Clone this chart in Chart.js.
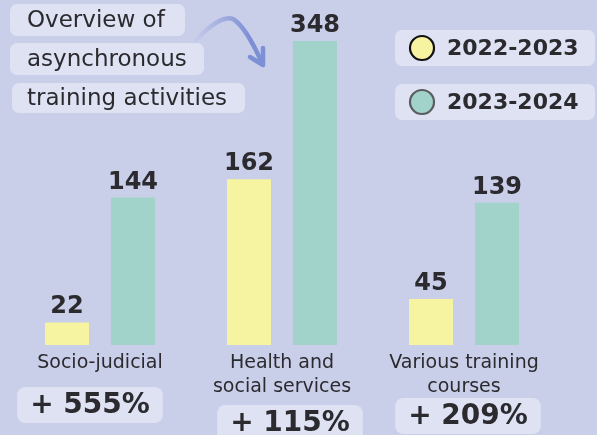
<!DOCTYPE html>
<html>
<head>
<meta charset="utf-8">
<script src="https://cdn.jsdelivr.net/npm/chart.js@4/dist/chart.umd.min.js"></script>
<style>
  html, body { margin: 0; padding: 0; background: #c9cee9; }
  #wrap { width: 597px; height: 435px; position: relative; }
</style>
</head>
<body>
<div id="wrap"><canvas id="chart-activities" width="597" height="435"></canvas></div>
<script>
// Asynchronous training activities, two school years
const categories = [['Socio-judicial'], ['Health and', 'social services'], ['Various training', 'courses']];
const seasons = ['2022-2023', '2023-2024'];
const values2223 = [22, 162, 45];
const values2324 = [144, 348, 139];
const titleLines = ['Overview of', 'asynchronous', 'training activities'];

const BOX = '#dee2f3';
const INK = '#2b2a2f';
const YELLOW = '#f6f3a1';
const TEAL = '#a1d3cb';

function roundBox(ctx, x, y, w, h, r) {
    ctx.beginPath();
    ctx.roundRect(x, y, w, h, r);
    ctx.fillStyle = BOX;
    ctx.fill();
}

const decorPlugin = {
    id: 'decor',
    afterDatasetsDraw(chart) {
        const ctx = chart.ctx;
        const area = chart.chartArea;
        ctx.save();

        // value labels above each bar (the tall bar is cut at the top)
        ctx.fillStyle = INK;
        ctx.font = 'bold 24px "DejaVu Sans"';
        ctx.textAlign = 'center';
        ctx.textBaseline = 'alphabetic';
        chart.data.datasets.forEach((ds, di) => {
            chart.getDatasetMeta(di).data.forEach((bar, i) => {
                const top = Math.max(bar.y, area.top);
                ctx.fillText(String(ds.data[i]), bar.x, top - 9);
            });
        });

        // growth badges
        const xs = chart.scales.x;
        const badgeTop = [387, 405, 398];
        const badgeShift = [-10, 8, 4];
        ctx.font = 'bold 28px "DejaVu Sans"';
        values2223.forEach((v, i) => {
            const pct = Math.round((values2324[i] - v) / v * 100);
            const txt = '+ ' + pct + '%';
            const cx = xs.getPixelForValue(i) + badgeShift[i];
            const w = ctx.measureText(txt).width + 26;
            roundBox(ctx, cx - w / 2, badgeTop[i], w, 36, 8);
            ctx.fillStyle = INK;
            ctx.textBaseline = 'middle';
            ctx.fillText(txt, cx, badgeTop[i] + 19);
        });

        // title boxes
        const titleBoxes = [[10, 4, 175, 32], [10, 43, 194, 32], [12, 83, 233, 30]];
        ctx.font = '23px "DejaVu Sans"';
        ctx.textAlign = 'left';
        titleLines.forEach((t, i) => {
            const b = titleBoxes[i];
            roundBox(ctx, b[0], b[1], b[2], b[3], 7);
            ctx.fillStyle = INK;
            ctx.fillText(t, 27, b[1] + b[3] / 2 + 1);
        });

        // legend
        const legendY = [48, 102];
        const borders = ['#111111', '#5a5c60'];
        ctx.font = 'bold 22px "DejaVu Sans"';
        chart.data.datasets.forEach((ds, i) => {
            roundBox(ctx, 395, legendY[i] - 18, 200, 36, 7);
            ctx.beginPath();
            ctx.arc(422, legendY[i], 12, 0, Math.PI * 2);
            ctx.fillStyle = ds.backgroundColor;
            ctx.fill();
            ctx.lineWidth = 2.2;
            ctx.strokeStyle = borders[i];
            ctx.stroke();
            ctx.fillStyle = INK;
            ctx.fillText(ds.label, 447, legendY[i] + 1);
        });

        // curved arrow
        const grad = ctx.createLinearGradient(193, 0, 250, 0);
        grad.addColorStop(0, 'rgba(125,143,213,0)');
        grad.addColorStop(1, 'rgba(125,143,213,1)');
        ctx.strokeStyle = grad;
        ctx.lineWidth = 4.5;
        ctx.lineCap = 'round';
        ctx.lineJoin = 'round';
        ctx.beginPath();
        ctx.moveTo(193, 43);
        ctx.quadraticCurveTo(220, 14, 233, 19);
        ctx.quadraticCurveTo(246, 27, 262, 63);
        ctx.stroke();
        ctx.strokeStyle = '#7d8fd5';
        ctx.beginPath();
        ctx.moveTo(250, 57);
        ctx.lineTo(263, 65);
        ctx.lineTo(263, 48);
        ctx.stroke();

        ctx.restore();
    }
};

new Chart(document.getElementById('chart-activities'), {
    type: 'bar',
    data: {
        labels: categories,
        datasets: [
            { label: seasons[0], data: values2223, backgroundColor: YELLOW, clip: 0 },
            { label: seasons[1], data: values2324, backgroundColor: TEAL, clip: 0 },
        ],
    },
    options: {
        responsive: false,
        animation: false,
        categoryPercentage: 0.725,
        barPercentage: 0.667,
        layout: { padding: { left: 9, right: 42, top: 41, bottom: 0 } },
        plugins: {
            legend: { display: false },
            tooltip: { enabled: false },
        },
        scales: {
            x: {
                grid: { display: false, drawTicks: false },
                border: { display: false },
                ticks: {
                    color: INK,
                    padding: 6,
                    maxRotation: 0,
                    autoSkip: false,
                    font: { family: '"DejaVu Sans"', size: 19, lineHeight: 1.25 },
                },
                afterFit(scale) { scale.height = 90; },
            },
            y: {
                display: false,
                min: 0,
                max: 297,
            },
        },
    },
    plugins: [decorPlugin],
});
</script>
</body>
</html>
